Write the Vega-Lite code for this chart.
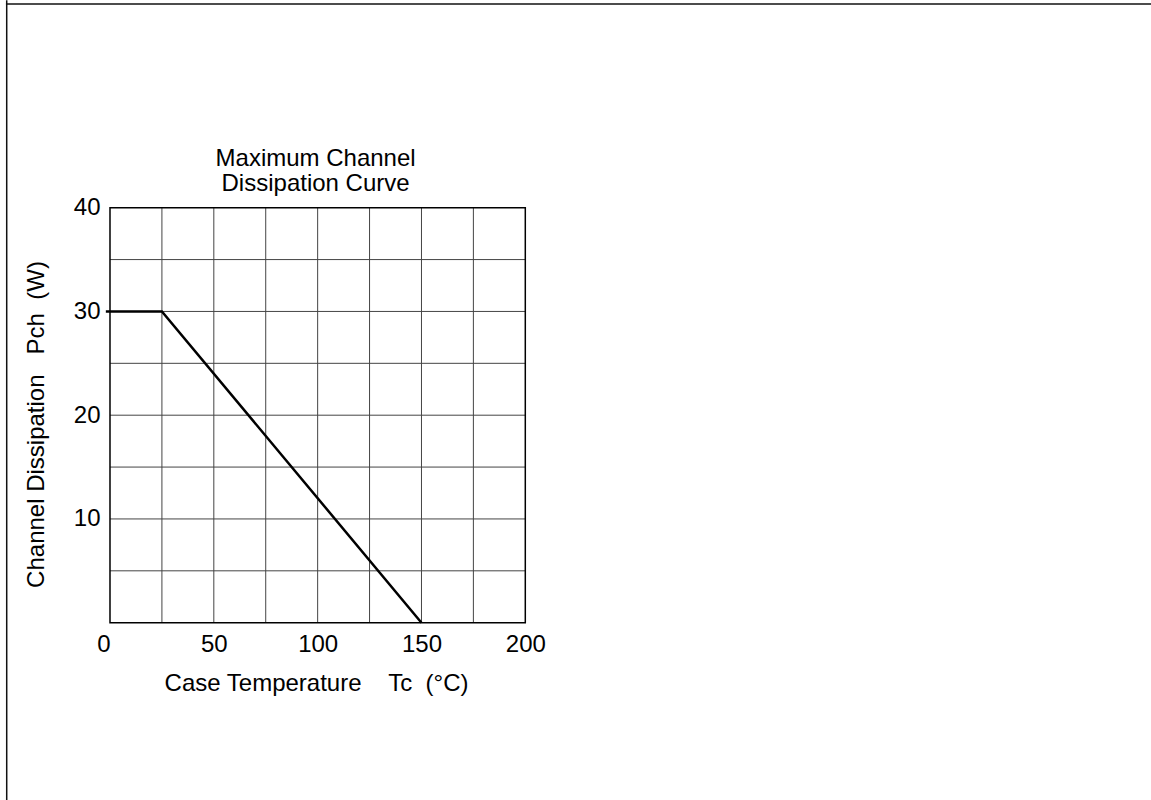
{
  "$schema": "https://vega.github.io/schema/vega-lite/v6.json",
  "width": 1151,
  "height": 800,
  "autosize": "none",
  "padding": 0,
  "background": "#ffffff",
  "config": {
    "view": {"stroke": null},
    "font": "Liberation Sans",
    "axis": {"grid": false, "domain": false, "ticks": false, "labelFont": "Liberation Sans", "titleFont": "Liberation Sans", "labelColor": "#000", "titleColor": "#000", "titleFontWeight": "normal"}
  },
  "datasets": {
    "curve": [
      {"tc": -2, "pch": 30},
      {"tc": 25, "pch": 30},
      {"tc": 150, "pch": 0}
    ],
    "vgrid": [{"t": 25}, {"t": 50}, {"t": 75}, {"t": 100}, {"t": 125}, {"t": 150}, {"t": 175}],
    "hgrid": [{"p": 5}, {"p": 10}, {"p": 15}, {"p": 20}, {"p": 25}, {"p": 30}, {"p": 35}]
  },
  "layer": [
    {
      "data": {"name": "vgrid"},
      "mark": {"type": "rule", "stroke": "#444", "strokeWidth": 1},
      "encoding": {
        "x": {"field": "t", "type": "quantitative"},
        "y": {"datum": 0, "type": "quantitative"},
        "y2": {"datum": 40}
      }
    },
    {
      "data": {"name": "hgrid"},
      "mark": {"type": "rule", "stroke": "#444", "strokeWidth": 1},
      "encoding": {
        "y": {"field": "p", "type": "quantitative"},
        "x": {"datum": 0, "type": "quantitative"},
        "x2": {"datum": 200}
      }
    },
    {
      "data": {"values": [{"a": 1}]},
      "mark": {"type": "rect", "fill": null, "fillOpacity": 0, "stroke": "#000", "strokeWidth": 1.5},
      "encoding": {
        "x": {"datum": 0, "type": "quantitative"},
        "x2": {"datum": 200},
        "y": {"datum": 0, "type": "quantitative"},
        "y2": {"datum": 40}
      }
    },
    {
      "data": {"values": [{"a": 1}]},
      "mark": {"type": "rule", "stroke": "#111", "strokeWidth": 1.5},
      "encoding": {
        "x": {"datum": -50.1, "type": "quantitative"},
        "x2": {"datum": 501.32},
        "y": {"datum": 59.635, "type": "quantitative"}
      }
    },
    {
      "data": {"values": [{"a": 1}]},
      "mark": {"type": "rule", "stroke": "#111", "strokeWidth": 1.5},
      "encoding": {
        "x": {"datum": -49.74, "type": "quantitative"},
        "y": {"datum": -17.09, "type": "quantitative"},
        "y2": {"datum": 60.0}
      }
    },
    {
      "data": {"values": [{"a": 1}]},
      "mark": {"type": "text", "text": "Maximum Channel\nDissipation Curve", "lineBreak": "\n", "lineHeight": 25, "fontSize": 24, "font": "Liberation Sans", "color": "#000", "align": "center", "baseline": "alphabetic"},
      "encoding": {
        "x": {"datum": 99, "type": "quantitative"},
        "y": {"datum": 44.02, "type": "quantitative"}
      }
    },
    {
      "data": {"name": "curve"},
      "mark": {"type": "line", "stroke": "#000", "strokeWidth": 2.5, "clip": false},
      "encoding": {
        "x": {
          "field": "tc", "type": "quantitative",
          "scale": {"domain": [-52.97, 501.32], "nice": false, "zero": false},
          "axis": {
            "orient": "bottom", "offset": -177.3, "values": [0, 50, 100, 150, 200],
            "labelFontSize": 24, "labelPadding": 10, "labelFlush": false,
            "labelAlign": {"condition": {"test": "datum.value == 0", "value": "right"}, "value": "center"},
            "title": "Case Temperature\u00a0\u00a0\u00a0\u00a0Tc\u00a0\u00a0(°C)",
            "titleFontSize": 24, "titleX": 316, "titleY": 68, "titleAlign": "center", "titleBaseline": "alphabetic"
          }
        },
        "y": {
          "field": "pch", "type": "quantitative",
          "scale": {"domain": [-17.09, 60.02], "nice": false, "zero": false},
          "axis": {
            "orient": "left", "offset": -110, "values": [10, 20, 30, 40],
            "labelFontSize": 24, "labelPadding": 10, "labelFlush": false, "labelBaseline": "middle",
            "title": "Channel Dissipation\u00a0\u00a0\u00a0Pch\u00a0\u00a0(W)",
            "titleFontSize": 24, "titleX": -67, "titleY": 424, "titleAngle": -90, "titleAlign": "center", "titleBaseline": "alphabetic"
          }
        }
      }
    }
  ]
}
